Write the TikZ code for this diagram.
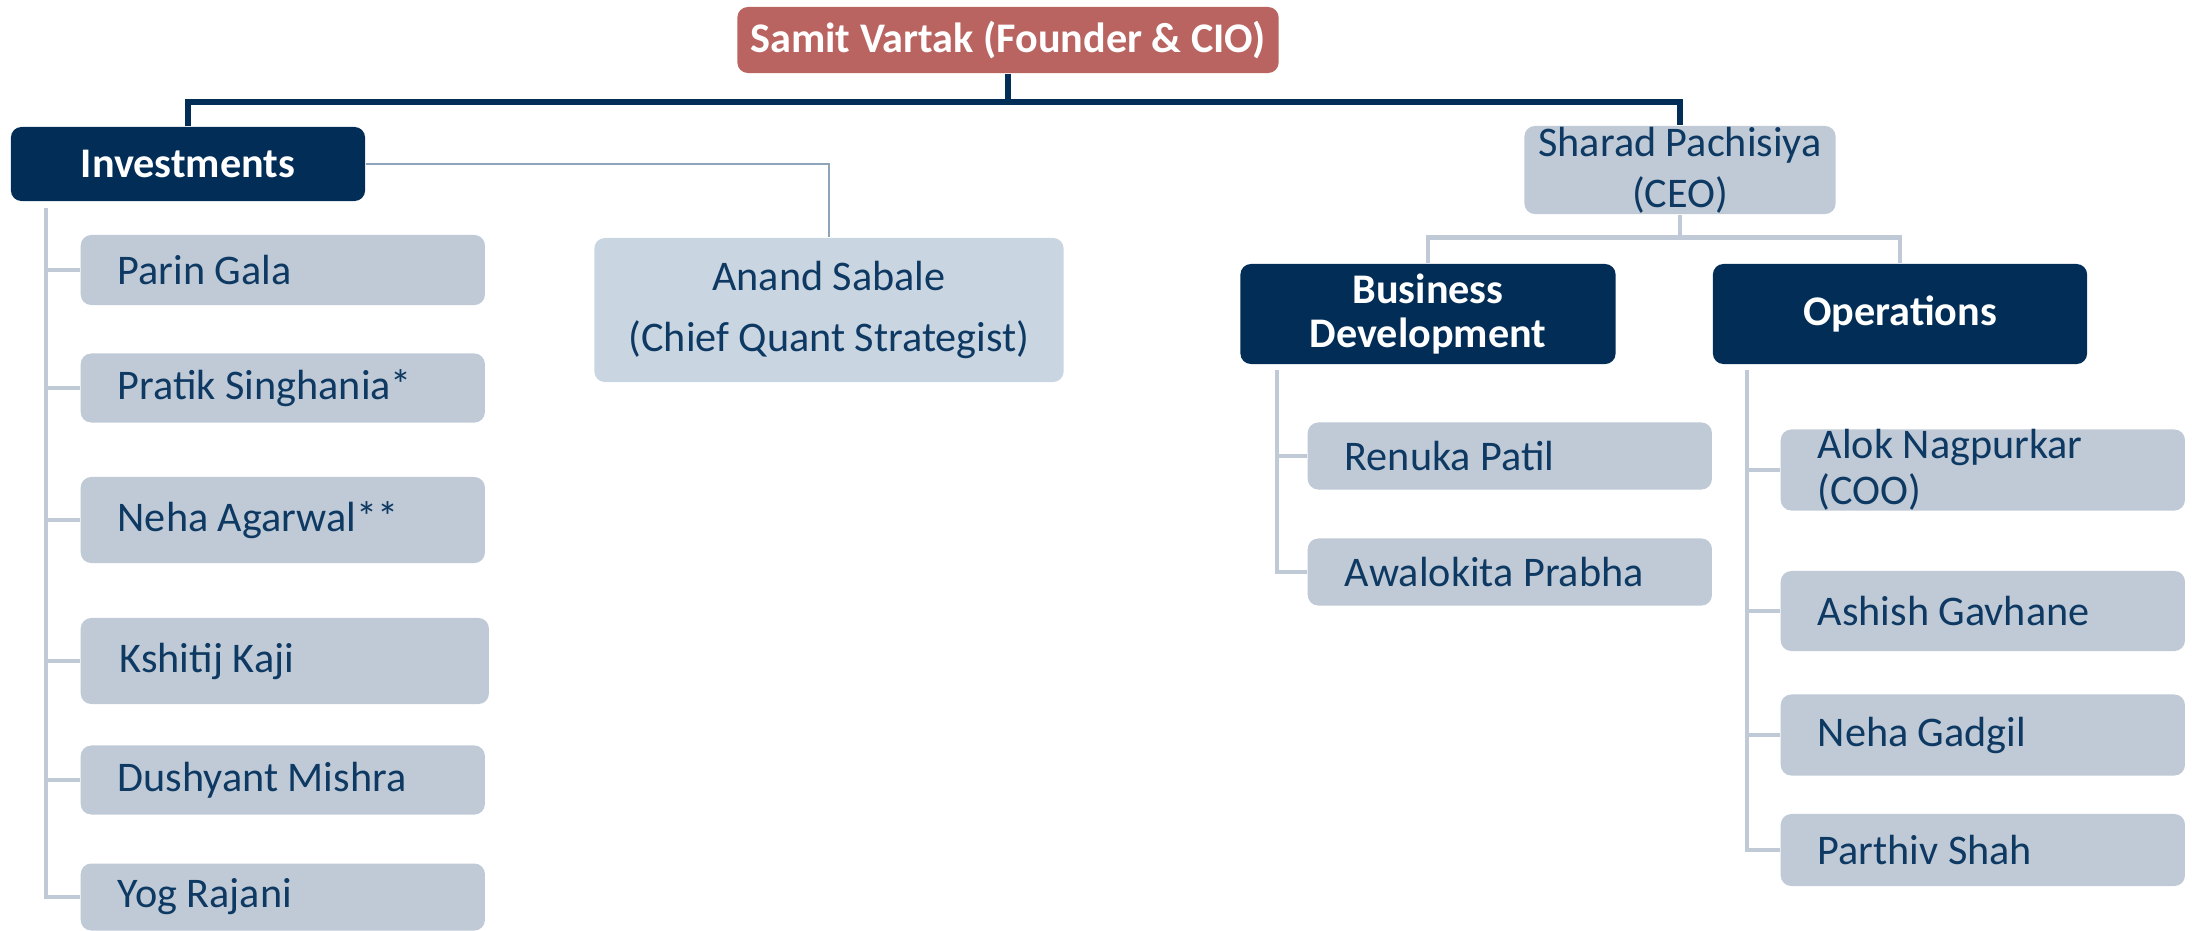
\documentclass[tikz,border=0pt]{standalone}
\usepackage{fontspec}
\setmainfont{Carlito}

\definecolor{navy}{HTML}{022D57}
\definecolor{brick}{HTML}{B96461}
\definecolor{steel}{HTML}{BFCAD6}
\definecolor{pale}{HTML}{C9D5E1}
\definecolor{ink}{HTML}{0E3963}
\definecolor{wire}{HTML}{8EA4BA}

\tikzset{
	box/.style={rounded corners=3pt, inner sep=0pt, font=\fontsize{12}{14.4}\selectfont},
	head/.style={box, fill=navy, text=white, align=flush center, font=\fontsize{12}{12.6}\selectfont\bfseries},
	member/.style={box, fill=steel, text=ink, anchor=west, inner xsep=0.37cm, text width=3.3cm, align=flush left},
	boss/.style={draw=navy, line width=1.6pt},
	spine/.style={draw=steel, line width=1.4pt},
	link/.style={draw=wire, line width=0.7pt}
}

\begin{document}
\begin{tikzpicture}[x=0.01cm, y=-0.01cm]
	\useasboundingbox (0, 0) rectangle (2192, 930);

	% top of the tree
	\node[box, fill=brick, text=white, font=\fontsize{12}{14.4}\selectfont\bfseries, minimum width=5.41cm, minimum height=0.66cm] (samit) at (1008, 40) {Samit Vartak (Founder \& CIO)};
	\node[head, minimum width=3.54cm, minimum height=0.74cm] (inv) at (188, 164) {Investments};
	\node[box, fill=steel, text=ink, align=flush center, minimum width=3.11cm, minimum height=0.88cm] (sharad) at (1680, 170) {Sharad Pachisiya\\(CEO)};
	\node[box, fill=pale, text=ink, align=flush center, font=\fontsize{12}{17.6}\selectfont, minimum width=4.69cm, minimum height=1.44cm] (anand) at (829, 310) {Anand Sabale\\(Chief Quant Strategist)};
	\node[head, minimum width=3.75cm, minimum height=1.00cm] (bizdev) at (1428, 314) {Business\\Development};
	\node[head, minimum width=3.74cm, minimum height=1.00cm] (ops) at (1900, 314) {Operations};

	% investments team
	\node[member, minimum height=0.70cm] (parin) at (80, 270) {Parin Gala};
	\node[member, minimum height=0.69cm] (pratik) at (80, 388) {Pratik Singhania*};
	\node[member, minimum height=0.86cm] (nehaa) at (80, 520) {Neha Agarwal**};
	\node[member, minimum height=0.86cm, minimum width=4.08cm] (kshitij) at (80, 661) {Kshitij Kaji};
	\node[member, minimum height=0.69cm] (dushyant) at (80, 780) {Dushyant Mishra};
	\node[member, minimum height=0.67cm] (yog) at (80, 897) {Yog Rajani};

	% business development team
	\node[member, minimum height=0.67cm] (renuka) at (1307, 456) {Renuka Patil};
	\node[member, minimum height=0.67cm] (awalokita) at (1307, 572) {Awalokita Prabha};

	% operations team
	\node[member, font=\fontsize{12}{13}\selectfont, minimum height=0.81cm] (alok) at (1780, 470) {Alok Nagpurkar\\(COO)};
	\node[member, minimum height=0.80cm] (ashish) at (1780, 611) {Ashish Gavhane};
	\node[member, minimum height=0.81cm] (nehag) at (1780, 735) {Neha Gadgil};
	\node[member, minimum height=0.72cm] (parthiv) at (1780, 850) {Parthiv Shah};

	% connectors
	\draw[boss] (samit.south) -- ++(0, 28) coordinate (top);
	\draw[boss] (inv.north) |- (top) -| (sharad.north);
	\draw[link] (inv.east) -| (anand.north);
	\draw[spine] (sharad.south) -- ++(0, 23) coordinate (ceo);
	\draw[spine] (bizdev.north) |- (ceo) -| (ops.north);

	\coordinate (invspine) at (46, 208);
	\draw[spine] (invspine) |- (yog.west);
	\draw[spine] (invspine |- parin.west) -- (parin.west);
	\draw[spine] (invspine |- pratik.west) -- (pratik.west);
	\draw[spine] (invspine |- nehaa.west) -- (nehaa.west);
	\draw[spine] (invspine |- kshitij.west) -- (kshitij.west);
	\draw[spine] (invspine |- dushyant.west) -- (dushyant.west);

	\coordinate (bdspine) at (1277, 370);
	\draw[spine] (bdspine) |- (awalokita.west);
	\draw[spine] (bdspine |- renuka.west) -- (renuka.west);

	\coordinate (opspine) at (1747, 370);
	\draw[spine] (opspine) |- (parthiv.west);
	\draw[spine] (opspine |- alok.west) -- (alok.west);
	\draw[spine] (opspine |- ashish.west) -- (ashish.west);
	\draw[spine] (opspine |- nehag.west) -- (nehag.west);
\end{tikzpicture}
\end{document}
